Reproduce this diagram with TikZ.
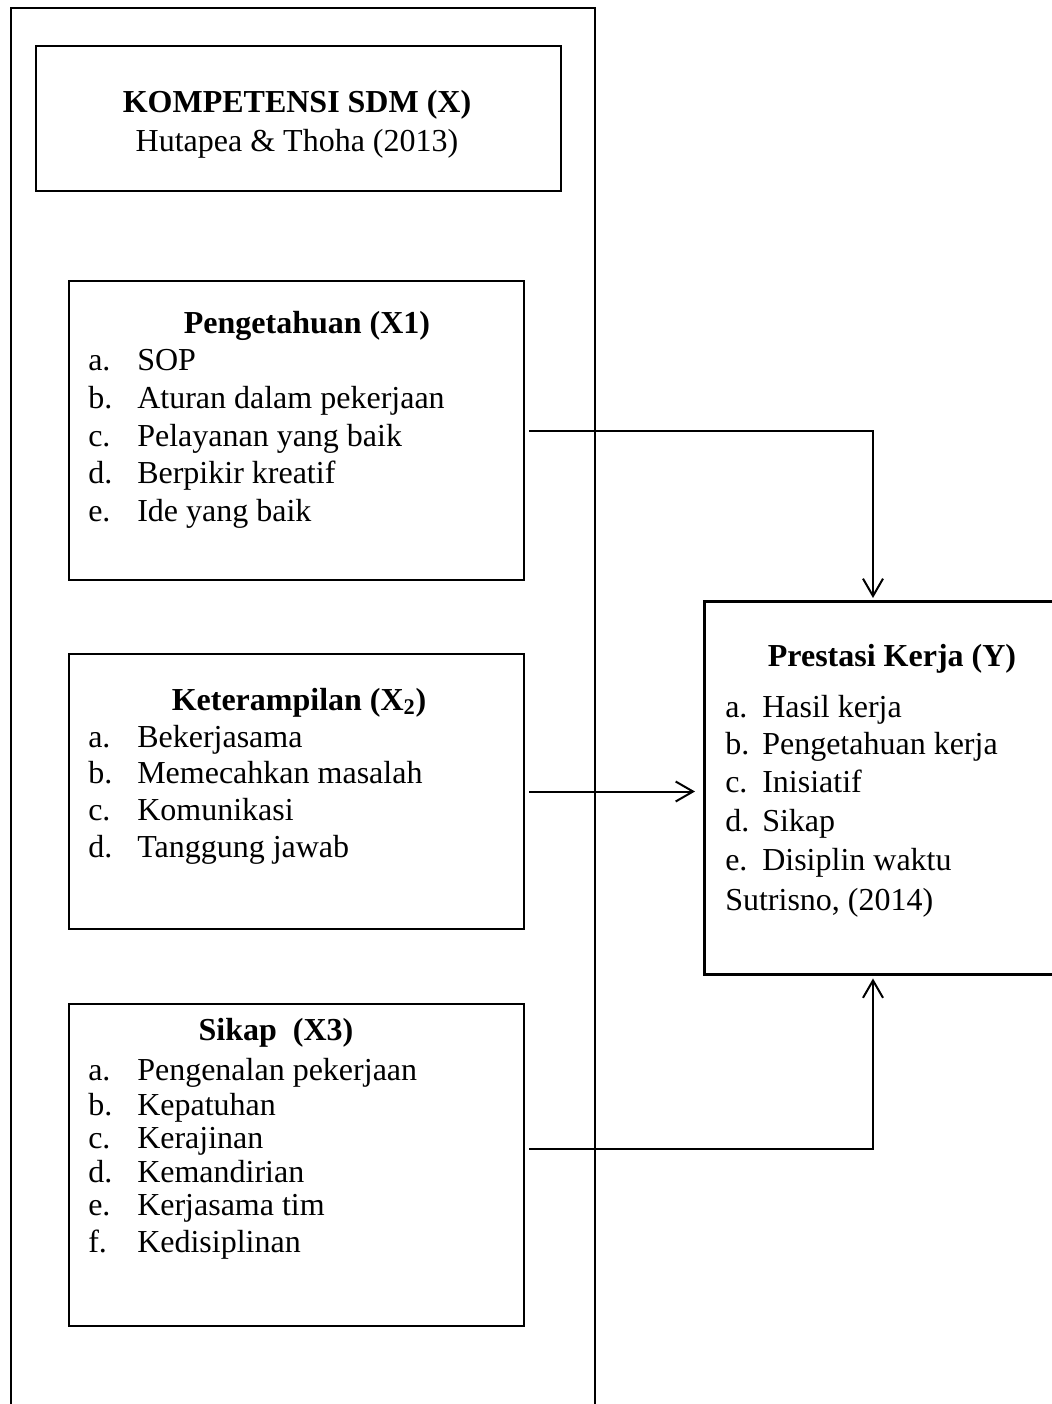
\documentclass[tikz,border=0pt]{standalone}
\usepackage{fontspec}
\setmainfont{Liberation Serif}
\usetikzlibrary{arrows.meta}
\newdimen\px
\px=0.75pt
\begin{document}
\begin{tikzpicture}[x=0.75pt,y=-0.75pt,
  box/.style={draw, line width=1.5pt, inner sep=0, anchor=north west},
  txt/.style={inner sep=0, anchor=base west, font=\fontsize{24}{28}\selectfont},
  ttl/.style={inner sep=0, anchor=base, font=\fontsize{24}{28}\selectfont\bfseries},
  conn/.style={line width=1.5pt, -{Straight Barb[length=13pt,width=15pt,line width=1.5pt]}}]
\useasboundingbox (0,0) rectangle (1052,1404);
\clip (0,0) rectangle (1052,1404);
% boxes
\node[box, minimum width=584\px, minimum height=1500\px] (outer) at (10,7) {};
\node[box, minimum width=525\px, minimum height=145\px] (top) at (35,45) {};
\node[box, minimum width=455\px, minimum height=299\px] (pk) at (68,280) {};
\node[box, minimum width=455\px, minimum height=275\px] (kt) at (68,653) {};
\node[box, minimum width=455\px, minimum height=322\px] (sk) at (68,1003) {};
\node[box, line width=2.6pt, minimum width=420\px, minimum height=373\px] (py) at (703,600) {};
% top box text
\node[ttl] (t1) at (297,112) {KOMPETENSI SDM (X)};
\node[txt, anchor=base] (t2) at (297,151) {Hutapea \& Thoha (2013)};
% Pengetahuan
\node[ttl] (pkt) at (307,333) {Pengetahuan (X1)};
\node[txt] (pka) at (88,370) {a.};
\node[txt] (pka2) at (137,370) {SOP};
\node[txt] (pkb) at (88,408) {b.};
\node[txt] (pkb2) at (137,408) {Aturan dalam pekerjaan};
\node[txt] (pkc) at (88,446) {c.};
\node[txt] (pkc2) at (137,446) {Pelayanan yang baik};
\node[txt] (pkd) at (88,483) {d.};
\node[txt] (pkd2) at (137,483) {Berpikir kreatif};
\node[txt] (pke) at (88,521) {e.};
\node[txt] (pke2) at (137,521) {Ide yang baik};
% Keterampilan
\node[ttl] (ktt) at (299,710) {Keterampilan (X\textsubscript{2})};
\node[txt] (kta) at (88,747) {a.};
\node[txt] (kta2) at (137,747) {Bekerjasama};
\node[txt] (ktb) at (88,783) {b.};
\node[txt] (ktb2) at (137,783) {Memecahkan masalah};
\node[txt] (ktc) at (88,820) {c.};
\node[txt] (ktc2) at (137,820) {Komunikasi};
\node[txt] (ktd) at (88,857) {d.};
\node[txt] (ktd2) at (137,857) {Tanggung jawab};
% Sikap
\node[ttl] (skt) at (276,1040) {Sikap\ \ (X3)};
\node[txt] (ska) at (88,1080) {a.};
\node[txt] (ska2) at (137,1080) {Pengenalan pekerjaan};
\node[txt] (skb) at (88,1115) {b.};
\node[txt] (skb2) at (137,1115) {Kepatuhan};
\node[txt] (skc) at (88,1148) {c.};
\node[txt] (skc2) at (137,1148) {Kerajinan};
\node[txt] (skd) at (88,1182) {d.};
\node[txt] (skd2) at (137,1182) {Kemandirian};
\node[txt] (ske) at (88,1215) {e.};
\node[txt] (ske2) at (137,1215) {Kerjasama tim};
\node[txt] (skf) at (88,1252) {f.};
\node[txt] (skf2) at (137,1252) {Kedisiplinan};
% Prestasi
\node[ttl] (pyt) at (892,666) {Prestasi Kerja (Y)};
\node[txt] (pya) at (725,717) {a.};
\node[txt] (pya2) at (762,717) {Hasil kerja};
\node[txt] (pyb) at (725,754) {b.};
\node[txt] (pyb2) at (762,754) {Pengetahuan kerja};
\node[txt] (pyc) at (725,792) {c.};
\node[txt] (pyc2) at (762,792) {Inisiatif};
\node[txt] (pyd) at (725,831) {d.};
\node[txt] (pyd2) at (762,831) {Sikap};
\node[txt] (pye) at (725,870) {e.};
\node[txt] (pye2) at (762,870) {Disiplin waktu};
\node[txt] (pys) at (725,910) {Sutrisno, (2014)};
% connectors
\coordinate (ax) at (873,0);
\draw[conn, shorten >=1.5pt] ([xshift=4\px]pk.east) -| (ax |- py.north);
\draw[conn, shorten >=6pt] ([xshift=4\px]kt.east) -- (kt.east -| py.west);
\draw[conn, shorten >=1.5pt] ([xshift=4\px,yshift=16\px]sk.east) -| (ax |- py.south);
\end{tikzpicture}
\end{document}
